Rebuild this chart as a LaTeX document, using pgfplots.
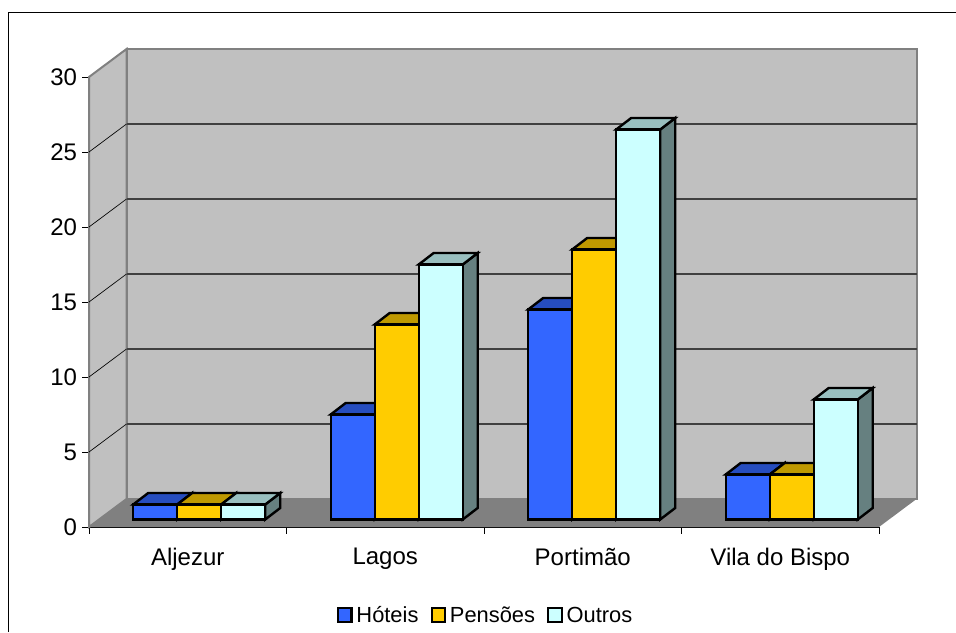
\documentclass[border=0pt]{standalone}
\usepackage{pgfplots}
\usepackage{fontspec}
\setmainfont{Liberation Sans}
\pgfplotsset{compat=1.18}
\definecolor{wall}{HTML}{C0C0C0}
\definecolor{wallline}{HTML}{808080}
\definecolor{gridc}{HTML}{404040}
\definecolor{bluef}{HTML}{3366FF}
\definecolor{bluet}{HTML}{264DBF}
\definecolor{blues}{HTML}{1A3380}
\definecolor{yelf}{HTML}{FFCC00}
\definecolor{yelt}{HTML}{BF9900}
\definecolor{yels}{HTML}{806600}
\definecolor{tealf}{HTML}{CCFFFF}
\definecolor{tealt}{HTML}{99BFBF}
\definecolor{teals}{HTML}{668080}
\newcommand\sidetop[4]{%
  \pgfmathsetmacro\xl{#1}%
  \pgfmathsetmacro\xr{#1+0.2228}%
  \pgfmathsetmacro\xld{#1+0.0759}%
  \pgfmathsetmacro\xrd{#1+0.2228+0.0759}%
  \pgfmathsetmacro\yb{0.5}%
  \pgfmathsetmacro\ybd{0.5+0.767}%
  \pgfmathsetmacro\yt{#2+0.5}%
  \pgfmathsetmacro\ytd{#2+0.5+0.767}%
  \edef\tmp{\noexpand\addplot[fill=#3,draw=black,line width=1.8pt,forget plot] coordinates {(\xr,\yb)(\xrd,\ybd)(\xrd,\ytd)(\xr,\yt)} -- cycle;
  \noexpand\addplot[fill=#4,draw=black,line width=1.8pt,forget plot] coordinates {(\xl,\yt)(\xld,\ytd)(\xrd,\ytd)(\xr,\yt)} -- cycle;}%
  \tmp}
\begin{document}
\begin{tikzpicture}
\path[use as bounding box] (0,0) rectangle (717pt,474pt);
\draw[black,line width=1.1pt] (6.4pt,0pt) -- (6.4pt,464.6pt) -- (717pt,464.6pt);
\begin{axis}[
  at={(66.75pt,78.75pt)}, anchor=origin,
  scale only axis, width=592.5pt, height=337.5pt,
  xmin=0, xmax=4, ymin=0, ymax=30,
  clip=false,
  axis x line=bottom, axis y line=left,
  x axis line style={-,black,line width=0.75pt},
  y axis line style={-,wallline!85!black,line width=1.5pt},
  tick align=outside,
  tick style={black,line width=0.6pt},
  major tick length=5pt,
  ytick={0,5,...,30},
  xtick={0,1,2,3,4}, xticklabels={},
  extra x ticks={0.5,1.5,2.5,3.5},
  extra x tick labels={Aljezur,Lagos,Portimão,Vila do Bispo},
  extra x tick style={major tick length=0pt},
  tick label style={font=\fontsize{18pt}{20pt}\selectfont},
  /pgf/number format/assume math mode=true,
  xticklabel style={yshift=-12pt},
  yticklabel style={xshift=-0.5pt},
  legend style={at={(0.5025,-0.1955)},anchor=center,draw=none,fill=none,
    font=\fontsize{16.4pt}{18pt}\selectfont,
    legend columns=3,
    inner sep=0pt,
    /tikz/every even column/.append style={column sep=7.1pt},
  },
  legend image code/.code={\draw[#1,draw=black,line width=1.7pt] (0pt,-5pt) rectangle (10pt,5pt); \path (11.5pt,0pt);},
]
% walls and floor
\addplot[fill=wall,draw=wallline,line width=1.5pt,forget plot] coordinates {(0.19,1.8667)(4.19,1.8667)(4.19,31.8667)(0.19,31.8667)} -- cycle;
\addplot[fill=wall,draw=wallline,line width=1.5pt,forget plot] coordinates {(0,0)(0.19,1.8667)(0.19,31.8667)(0,30)} -- cycle;
% gridlines
\addplot[black,line width=0.5pt,forget plot] coordinates {(0,5)(0.19,6.8667)};
\addplot[black,line width=0.5pt,forget plot] coordinates {(0,10)(0.19,11.8667)};
\addplot[black,line width=0.5pt,forget plot] coordinates {(0,15)(0.19,16.8667)};
\addplot[black,line width=0.5pt,forget plot] coordinates {(0,20)(0.19,21.8667)};
\addplot[black,line width=0.5pt,forget plot] coordinates {(0,25)(0.19,26.8667)};
\addplot[gridc,line width=0.8pt,forget plot] coordinates {(0.19,6.8667)(4.19,6.8667)};
\addplot[gridc,line width=0.8pt,forget plot] coordinates {(0.19,11.8667)(4.19,11.8667)};
\addplot[gridc,line width=0.8pt,forget plot] coordinates {(0.19,16.8667)(4.19,16.8667)};
\addplot[gridc,line width=0.8pt,forget plot] coordinates {(0.19,21.8667)(4.19,21.8667)};
\addplot[gridc,line width=0.8pt,forget plot] coordinates {(0.19,26.8667)(4.19,26.8667)};
% floor
\addplot[fill=wallline,draw=none,forget plot] coordinates {(0,0)(4,0)(4.19,1.8667)(0.19,1.8667)} -- cycle;
% Hoteis
\sidetop{0.2238}{1}{blues}{bluet}
\sidetop{1.2238}{7}{blues}{bluet}
\sidetop{2.2238}{14}{blues}{bluet}
\sidetop{3.2238}{3}{blues}{bluet}
\addplot[ybar,bar width=33pt,bar shift=49.7pt,yshift=5.625pt,fill=bluef,draw=black,line width=1.8pt,forget plot]
  coordinates {(0,1)(1,7)(2,14)(3,3)};
% Pensoes
\sidetop{0.4466}{1}{yels}{yelt}
\sidetop{1.4466}{13}{yels}{yelt}
\sidetop{2.4466}{18}{yels}{yelt}
\sidetop{3.4466}{3}{yels}{yelt}
\addplot[ybar,bar width=33pt,bar shift=82.7pt,yshift=5.625pt,fill=yelf,draw=black,line width=1.8pt,forget plot]
  coordinates {(0,1)(1,13)(2,18)(3,3)};
% Outros
\sidetop{0.6694}{1}{teals}{tealt}
\sidetop{1.6694}{17}{teals}{tealt}
\sidetop{2.6694}{26}{teals}{tealt}
\sidetop{3.6694}{8}{teals}{tealt}
\addplot[ybar,bar width=33pt,bar shift=115.7pt,yshift=5.625pt,fill=tealf,draw=black,line width=1.8pt,forget plot]
  coordinates {(0,1)(1,17)(2,26)(3,8)};
\addlegendimage{fill=bluef}
\addlegendimage{fill=yelf}
\addlegendimage{fill=tealf}
\legend{\strut Hóteis,\strut Pensões,\strut Outros}
\end{axis}
\end{tikzpicture}
\end{document}
